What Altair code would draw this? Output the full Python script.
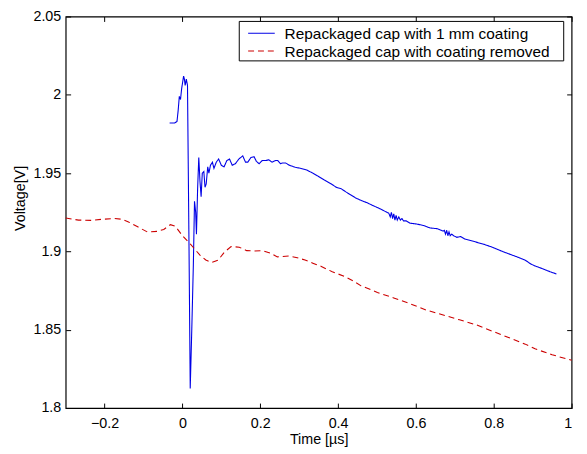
import altair as alt
import pandas as pd

SERIES_BLUE = "Repackaged cap with 1 mm coating"
SERIES_RED = "Repackaged cap with coating removed"

blue_t = [-0.033, -0.020, -0.014, -0.011, -0.008, -0.005, -0.002, 0.003, 0.005, 0.007,
          0.010, 0.013, 0.017, 0.020, 0.024, 0.028, 0.031, 0.034, 0.036, 0.039,
          0.042, 0.045, 0.048, 0.051, 0.055, 0.058, 0.061, 0.065, 0.068, 0.072,
          0.077, 0.081, 0.087, 0.093, 0.100, 0.107, 0.114, 0.121, 0.128, 0.136,
          0.145, 0.155, 0.162, 0.168, 0.176, 0.184, 0.190, 0.197, 0.205, 0.214,
          0.222, 0.230, 0.239, 0.245, 0.252, 0.258, 0.265, 0.275, 0.290, 0.305,
          0.319, 0.335, 0.349, 0.365, 0.383, 0.395, 0.408, 0.420, 0.433, 0.446,
          0.459, 0.475, 0.492, 0.510, 0.525, 0.530, 0.534, 0.537, 0.540, 0.543,
          0.546, 0.549, 0.552, 0.556, 0.560, 0.564, 0.568, 0.575, 0.585, 0.602,
          0.620, 0.636, 0.655, 0.670, 0.673, 0.676, 0.679, 0.682, 0.685, 0.688,
          0.692, 0.697, 0.705, 0.715, 0.725, 0.740, 0.754, 0.775, 0.796, 0.817,
          0.838, 0.860, 0.881, 0.895, 0.906, 0.925, 0.945, 0.961]
blue_v = [1.982, 1.982, 1.983, 1.990, 1.999, 1.997, 2.004, 2.012, 2.010, 2.006,
          2.010, 2.006, 1.900, 1.8125, 1.850, 1.891, 1.932, 1.925, 1.911, 1.940,
          1.960, 1.945, 1.935, 1.950, 1.951, 1.941, 1.943, 1.954, 1.950, 1.955,
          1.957, 1.953, 1.957, 1.959, 1.955, 1.954, 1.958, 1.959, 1.955, 1.956,
          1.959, 1.961, 1.957, 1.957, 1.960, 1.9605, 1.9575, 1.956, 1.958, 1.958,
          1.9585, 1.957, 1.958, 1.958, 1.956, 1.9565, 1.9565, 1.955, 1.9537, 1.953,
          1.952, 1.950, 1.948, 1.9455, 1.943, 1.941, 1.940, 1.938, 1.936, 1.934,
          1.9326, 1.931, 1.929, 1.927, 1.925, 1.9245, 1.922, 1.925, 1.921, 1.924,
          1.920, 1.923, 1.920, 1.922, 1.920, 1.921, 1.9195, 1.9195, 1.918, 1.9175,
          1.9165, 1.915, 1.9145, 1.913, 1.9135, 1.911, 1.9135, 1.910, 1.9125, 1.910,
          1.911, 1.910, 1.909, 1.9095, 1.908, 1.907, 1.906, 1.9045, 1.9027, 1.9005,
          1.8985, 1.8965, 1.8944, 1.892, 1.8907, 1.889, 1.887, 1.8856]

red_t = [-0.300, -0.267, -0.233, -0.208, -0.174, -0.155, -0.140, -0.115, -0.090, -0.065,
         -0.048, -0.031, -0.018, 0.000, 0.020, 0.045, 0.060, 0.075, 0.092, 0.108,
         0.125, 0.146, 0.165, 0.185, 0.206, 0.225, 0.244, 0.273, 0.295, 0.315,
         0.335, 0.357, 0.385, 0.416, 0.440, 0.459, 0.480, 0.501, 0.543, 0.585,
         0.627, 0.670, 0.712, 0.754, 0.796, 0.838, 0.881, 0.906, 0.950, 1.000]
red_v = [1.9213, 1.920, 1.9198, 1.9205, 1.921, 1.9205, 1.919, 1.9157, 1.9124, 1.9128,
         1.914, 1.9171, 1.916, 1.910, 1.9048, 1.8976, 1.8945, 1.893, 1.8945, 1.8996,
         1.9031, 1.9027, 1.9005, 1.9003, 1.9005, 1.899, 1.8965, 1.8971, 1.896, 1.8945,
         1.8925, 1.8904, 1.887, 1.8841, 1.881, 1.878, 1.876, 1.8738, 1.8703, 1.8666,
         1.8625, 1.8594, 1.8563, 1.8532, 1.8491, 1.845, 1.8408, 1.8378, 1.834, 1.8305]

x_ticks = [-0.2, 0, 0.2, 0.4, 0.6, 0.8, 1.0]
y_ticks = [1.8, 1.85, 1.9, 1.95, 2.0, 2.05]

series_names = [SERIES_BLUE, SERIES_RED]
series_colors = ["#0000e6", "#cc0000"]
series_dashes = [[1, 0], [6, 4]]

df = pd.concat([
    pd.DataFrame({"t": blue_t, "v": blue_v, "series": SERIES_BLUE}),
    pd.DataFrame({"t": red_t, "v": red_v, "series": SERIES_RED}),
], ignore_index=True)

FONT = "Liberation Sans"
FS = 14.5
W, H = 513, 397

xscale = alt.Scale(domain=[-0.3, 1.0], nice=False, zero=False)
yscale = alt.Scale(domain=[1.8, 2.05], nice=False, zero=False)
color_scale = alt.Scale(domain=series_names, range=series_colors)
dash_scale = alt.Scale(domain=series_names, range=series_dashes)

main = alt.Chart(df).mark_line(strokeWidth=1.1).encode(
    x=alt.X("t:Q", scale=xscale, title="Time [µs]",
            axis=alt.Axis(values=x_ticks, format=".1~f", offset=-5, domain=False,
                          tickSize=5, tickColor="black", tickWidth=1, grid=False,
                          labelPadding=9, labelFont=FONT, labelFontSize=FS,
                          labelColor="black", titleFont=FONT, titleFontSize=FS,
                          titleFontWeight="normal", titleColor="black",
                          titlePadding=2)),
    y=alt.Y("v:Q", scale=yscale, title="Voltage[V]",
            axis=alt.Axis(values=y_ticks, format=".2~f", offset=-5, domain=False,
                          tickSize=5, tickColor="black", tickWidth=1, grid=False,
                          labelPadding=5, labelFont=FONT, labelFontSize=FS,
                          labelColor="black", titleFont=FONT, titleFontSize=FS,
                          titleFontWeight="normal", titleColor="black",
                          titlePadding=6, titleY=184)),
    color=alt.Color("series:N", scale=color_scale, legend=None),
    strokeDash=alt.StrokeDash("series:N", scale=dash_scale, legend=None),
)

mirror = alt.Chart(df).mark_point(opacity=0).encode(
    x=alt.X("t:Q", scale=xscale, title=None,
            axis=alt.Axis(orient="top", values=x_ticks, labels=False, offset=-5,
                          domain=False, tickSize=5, tickColor="black", tickWidth=1,
                          grid=False)),
    y=alt.Y("v:Q", scale=yscale, title=None,
            axis=alt.Axis(orient="right", values=y_ticks, labels=False, offset=-5,
                          domain=False, tickSize=5, tickColor="black", tickWidth=1,
                          grid=False)),
)

# Legend drawn as marks (box, sample lines, labels)
LX0, LX1, LY0, LY1 = 176, 505, 5, 45
legend_box = alt.Chart(pd.DataFrame({"k": [0]})).mark_rect(
    fill="white", stroke="black", strokeWidth=1
).encode(x=alt.value(LX0), x2=alt.value(LX1), y=alt.value(LY0), y2=alt.value(LY1))

legend_layers = [legend_box]
for i, name in enumerate(series_names):
    row_y = LY0 + 12 + 18 * i
    d = pd.DataFrame({"series": [name]})
    legend_layers.append(
        alt.Chart(d).mark_rule(strokeWidth=1.1).encode(
            x=alt.value(LX0 + 9), x2=alt.value(LX0 + 36), y=alt.value(row_y),
            color=alt.Color("series:N", scale=color_scale, legend=None),
            strokeDash=alt.StrokeDash("series:N", scale=dash_scale, legend=None),
        )
    )
    legend_layers.append(
        alt.Chart(d).mark_text(align="left", baseline="middle", font=FONT,
                               fontSize=15.6, color="black").encode(
            x=alt.value(LX0 + 46), y=alt.value(row_y + 1), text="series:N"
        )
    )

chart = alt.layer(mirror, main, *legend_layers).resolve_scale(
    x="independent", y="independent"
).properties(
    width=W, height=H,
    autosize=alt.AutoSizeParams(type="none"),
    padding={"left": 58.5, "top": 5.5, "right": 7.5, "bottom": 43.5},
).configure(background="white").configure_view(stroke="black", strokeWidth=1.2)

chart.save("out.html", embed_options={"renderer": "svg", "actions": False})
